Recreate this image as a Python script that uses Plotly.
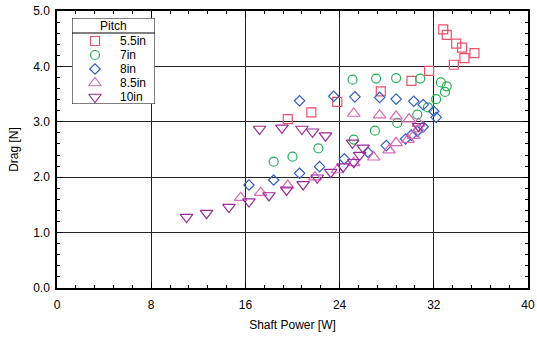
import plotly.graph_objects as go

# ---- data ----
p55_x = [19.6, 21.6, 23.8, 27.5, 30.1, 31.6, 33.7, 34.6, 35.45, 34.4, 33.9, 33.1, 32.8]
p55_y = [3.05, 3.17, 3.36, 3.55, 3.74, 3.92, 4.03, 4.15, 4.24, 4.34, 4.41, 4.57, 4.67]

p7_x = [18.4, 20.0, 22.2, 25.2, 27.0, 28.9, 30.6, 31.5, 32.2, 32.95, 33.1, 32.6,
        25.1, 27.1, 28.8, 30.85]
p7_y = [2.28, 2.37, 2.52, 2.68, 2.84, 2.98, 3.13, 3.26, 3.41, 3.54, 3.64, 3.71,
        3.76, 3.78, 3.79, 3.78]

p8_x = [16.3, 18.4, 20.6, 22.3, 24.4, 26.4, 27.96, 29.6, 30.1, 30.6, 31.1, 32.2, 32.0, 31.1,
        20.6, 23.5, 25.3, 27.4, 28.8, 30.3]
p8_y = [1.86, 1.95, 2.07, 2.19, 2.33, 2.45, 2.57, 2.69, 2.76, 2.83, 2.91, 3.08, 3.19, 3.31,
        3.38, 3.46, 3.45, 3.44, 3.41, 3.37]

p85_x = [15.6, 17.3, 19.6, 21.9, 23.8, 25.2, 26.9, 28.2, 28.8, 29.8, 30.3, 30.7, 30.7,
         29.9, 28.8, 27.4, 25.2]
p85_y = [1.63, 1.72, 1.85, 2.00, 2.13, 2.26, 2.36, 2.49, 2.62, 2.68, 2.75, 2.87, 2.97,
         3.05, 3.10, 3.12, 3.15]

p10_x = [11.0, 12.7, 14.6, 16.3, 18.0, 19.5, 20.9, 22.1, 23.25, 24.3, 25.2, 25.7, 26.0, 25.1,
         17.2, 19.1, 20.8, 21.7, 22.8, 30.7]
p10_y = [1.28, 1.35, 1.46, 1.56, 1.67, 1.77, 1.87, 1.99, 2.09, 2.19, 2.27, 2.40, 2.53, 2.62,
         2.87, 2.89, 2.87, 2.82, 2.75, 2.92]

names = ["5.5in", "7in", "8in", "8.5in", "10in"]
legend_title = "Pitch"
xs = [p55_x, p7_x, p8_x, p85_x, p10_x]
ys = [p55_y, p7_y, p8_y, p85_y, p10_y]
symbols = ["square-open", "circle-open", "diamond-open", "triangle-up-open", "triangle-down-open"]
colors = ["#f0506a", "#22b050", "#3060c0", "#d868b8", "#9a2a9a"]
sizes = [9, 9, 8, 11, 11]

FONT = "Liberation Sans, Arial, sans-serif"

W, H = 537, 338
L, R, T, B = 57, 9, 11, 50
pw, ph = W - L - R, H - T - B

fig = go.Figure()
for n, x, y, s, c, sz in zip(names, xs, ys, symbols, colors, sizes):
    fig.add_trace(go.Scatter(
        x=x, y=y, mode="markers", name=n, showlegend=False,
        marker=dict(symbol=s, size=sz, color=c, line=dict(color=c, width=1.2)),
    ))

axis_common = dict(
    showline=True, linecolor="black", linewidth=1.5, mirror="ticks",
    ticks="inside", tickcolor="black", ticklen=6, tickwidth=1,
    showgrid=True, gridcolor="#222222", gridwidth=1,
    zeroline=False, automargin=False,
    tickfont=dict(family=FONT, size=12, color="black"),
)

fig.update_layout(
    xaxis=dict(
        range=[0, 40], dtick=8, tick0=0, ticklabelstandoff=5,
        title=dict(text="Shaft Power [W]", font=dict(family=FONT, size=12, color="black"), standoff=9),
        minor=dict(dtick=1.6, ticks="inside", ticklen=3, tickcolor="black", showgrid=False),
        **axis_common,
    ),
    yaxis=dict(
        range=[0, 5], dtick=1, tick0=0, tickformat=".1f", ticklabelstandoff=3,
        title=dict(text="Drag [N]", font=dict(family=FONT, size=12, color="black"), standoff=12),
        minor=dict(dtick=0.2, ticks="inside", ticklen=3, tickcolor="black", showgrid=False),
        **axis_common,
    ),
)

# ---- legend drawn on its own pixel-scaled axes ----
bx0, bx1, by0, by1 = 72, 155, 18, 104   # legend box in page pixels
sep_y = 33
def fx(px):
    return (px - L) / pw
def fy(py):
    return (H - B - py) / ph

fig.update_layout(
    xaxis2=dict(domain=[fx(bx0), fx(bx1)], range=[bx0, bx1], anchor="y2",
                visible=False, showgrid=False, zeroline=False, fixedrange=True),
    yaxis2=dict(domain=[fy(by1), fy(by0)], range=[by1, by0], anchor="x2",
                visible=False, showgrid=False, zeroline=False, fixedrange=True),
)
fig.add_shape(type="rect", xref="x2", yref="y2", x0=bx0, x1=bx1, y0=by0, y1=by1,
              line=dict(color="black", width=1), fillcolor="white", layer="below")
fig.add_shape(type="line", xref="x2", yref="y2", x0=bx0, x1=bx1, y0=sep_y, y1=sep_y,
              line=dict(color="black", width=1), layer="below")
fig.add_annotation(xref="x2", yref="y2", x=(bx0 + bx1) / 2, y=(by0 + sep_y) / 2,
                   text=legend_title, showarrow=False, xanchor="center", yanchor="middle",
                   borderpad=0, font=dict(family=FONT, size=12, color="black"))
row0, row_step = 41, 14
for i, (n, s, c, sz) in enumerate(zip(names, symbols, colors, sizes)):
    yy = row0 + row_step * i
    fig.add_trace(go.Scatter(
        x=[95], y=[yy], xaxis="x2", yaxis="y2", mode="markers", showlegend=False,
        hoverinfo="skip",
        marker=dict(symbol=s, size=sz, color=c, line=dict(color=c, width=1.2)),
    ))
    fig.add_annotation(xref="x2", yref="y2", x=119, y=yy, text=n, showarrow=False,
                       xanchor="left", yanchor="middle", borderpad=0,
                       font=dict(family=FONT, size=12, color="black"))

fig.update_layout(
    width=W, height=H,
    margin=dict(l=L, r=R, t=T, b=B, autoexpand=False),
    paper_bgcolor="white", plot_bgcolor="white",
    font=dict(family=FONT, size=12, color="black"),
    showlegend=False,
)

fig.write_html("out.html")
